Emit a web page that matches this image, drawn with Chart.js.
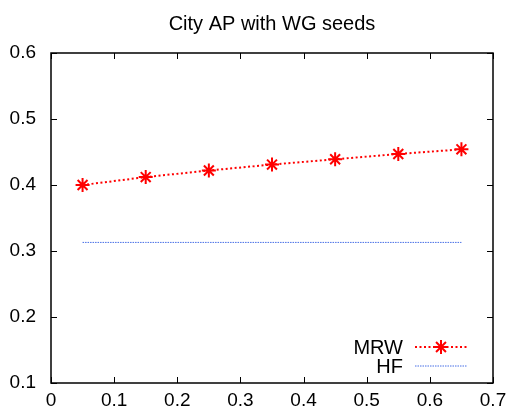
<!DOCTYPE html>
<html>
<head>
<meta charset="utf-8">
<script src="https://cdn.jsdelivr.net/npm/chart.js@4"></script>
<style>
  html, body { margin: 0; padding: 0; background: #fff; }
  #wrap { width: 511px; height: 411px; }
</style>
</head>
<body>
<div id="wrap"><canvas id="myChart" width="511" height="411"></canvas></div>
<script>
// values
const xValues = [0.05, 0.15, 0.25, 0.35, 0.45, 0.55, 0.65];
const mrwValues = [0.400, 0.412, 0.422, 0.431, 0.439, 0.447, 0.454];
const hfValues = [0.313, 0.313, 0.313, 0.313, 0.313, 0.313, 0.313];
const seriesNames = ['MRW', 'HF'];
const chartTitle = 'City AP with WG seeds';

const FONT = 'Liberation Sans, Arial, sans-serif';

// gnuplot-like frame with inward ticks on all four sides
const framePlugin = {
    id: 'frame',
    afterDatasetsDraw(chart) {
        const ctx = chart.ctx;
        const a = chart.chartArea;
        const xs = chart.scales.x, ys = chart.scales.y;
        const tl = 6;
        ctx.save();
        ctx.strokeStyle = '#000';
        ctx.lineWidth = 1.5;
        ctx.strokeRect(a.left, a.top, a.right - a.left, a.bottom - a.top);
        ctx.lineWidth = 1;
        ctx.beginPath();
        xs.ticks.forEach(t => {
            const px = Math.round(xs.getPixelForValue(t.value)) + 0.5;
            ctx.moveTo(px, a.bottom); ctx.lineTo(px, a.bottom - tl);
            ctx.moveTo(px, a.top); ctx.lineTo(px, a.top + tl);
        });
        ys.ticks.forEach(t => {
            const py = Math.round(ys.getPixelForValue(t.value)) + 0.5;
            ctx.moveTo(a.left, py); ctx.lineTo(a.left + tl, py);
            ctx.moveTo(a.right, py); ctx.lineTo(a.right - tl, py);
        });
        ctx.stroke();
        ctx.restore();
    }
};

// legend inside the plot, text on the left of the line sample
const keyPlugin = {
    id: 'key',
    afterDatasetsDraw(chart) {
        const ctx = chart.ctx;
        const a = chart.chartArea;
        const textRight = a.right - 90;
        const x0 = a.right - 78, x1 = a.right - 26;
        const rows = [a.bottom - 36, a.bottom - 17];
        ctx.save();
        ctx.font = '20px ' + FONT;
        ctx.textAlign = 'right';
        ctx.textBaseline = 'middle';
        chart.data.datasets.forEach((ds, i) => {
            const y = rows[i];
            ctx.fillStyle = '#000';
            ctx.fillText(ds.label, textRight, y + 1);
            ctx.strokeStyle = ds.borderColor;
            ctx.lineWidth = ds.borderWidth;
            ctx.setLineDash(ds.borderDash || []);
            ctx.beginPath();
            ctx.moveTo(x0, y); ctx.lineTo(x1, y);
            ctx.stroke();
            ctx.setLineDash([]);
            if (ds.pointRadius > 0) {
                Chart.helpers.drawPoint(ctx, {
                    pointStyle: ds.pointStyle,
                    rotation: 0,
                    borderWidth: ds.pointBorderWidth,
                    radius: ds.pointRadius
                }, (x0 + x1) / 2, y);
            }
        });
        ctx.restore();
    }
};

const ctx = document.getElementById('myChart').getContext('2d');
const myChart = new Chart(ctx, {
    type: 'line',
    data: {
        datasets: [{
            label: seriesNames[0],
            data: xValues.map((x, i) => ({ x: x, y: mrwValues[i] })),
            borderColor: '#ff0000',
            backgroundColor: '#ff0000',
            borderWidth: 2,
            borderDash: [2, 2.5],
            pointStyle: 'star',
            pointRadius: 7,
            pointBorderWidth: 2,
            pointBorderColor: '#ff0000',
            tension: 0
        }, {
            label: seriesNames[1],
            data: xValues.map((x, i) => ({ x: x, y: hfValues[i] })),
            borderColor: 'rgb(70,110,230)',
            backgroundColor: 'rgb(70,110,230)',
            borderWidth: 1,
            borderDash: [1.5, 1],
            pointRadius: 0,
            tension: 0
        }]
    },
    options: {
        responsive: false,
        animation: false,
        layout: { padding: { top: 0, right: 18, left: 0, bottom: 0 } },
        plugins: {
            legend: { display: false },
            tooltip: { enabled: false },
            title: {
                display: true,
                fullSize: false,
                text: chartTitle,
                color: '#000',
                font: { family: FONT, size: 20, weight: 'normal' },
                padding: { top: 12, bottom: 17 }
            }
        },
        scales: {
            x: {
                type: 'linear',
                min: 0,
                max: 0.7,
                ticks: {
                    stepSize: 0.1,
                    color: '#000',
                    padding: 6,
                    maxRotation: 0,
                    font: { family: FONT, size: 19 },
                    callback: v => String(+v.toFixed(1))
                },
                grid: { display: false, drawTicks: false },
                border: { display: false },
                afterFit: s => {
                    s.height = 28;
                    s.paddingLeft = 0;
                    s.paddingRight = 18;
                }
            },
            y: {
                min: 0.1,
                max: 0.6,
                ticks: {
                    stepSize: 0.1,
                    color: '#000',
                    padding: 15,
                    font: { family: FONT, size: 19 },
                    callback: v => String(+v.toFixed(1))
                },
                grid: { display: false, drawTicks: false },
                border: { display: false },
                afterFit: s => {
                    s.width = 51;
                    s.paddingTop = 0;
                    s.paddingBottom = 0;
                }
            }
        }
    },
    plugins: [framePlugin, keyPlugin]
});
</script>
</body>
</html>
